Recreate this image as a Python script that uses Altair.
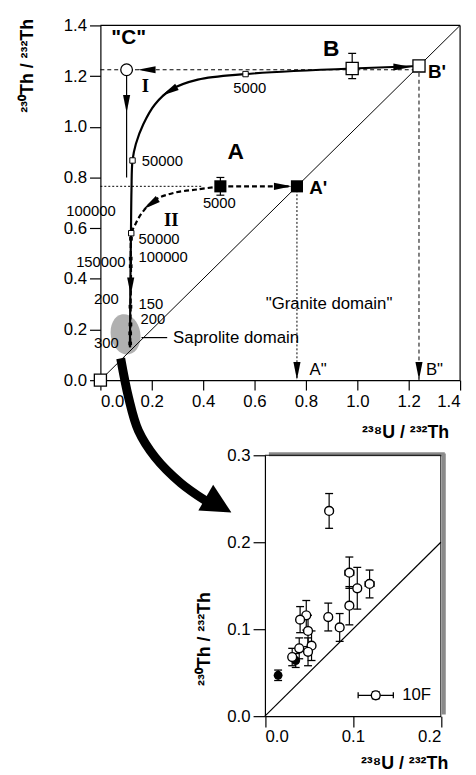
import altair as alt
import pandas as pd

FONT = "Liberation Sans"
SERIF = "Liberation Serif"

# ------------------------------------------------------------------ top panel data
top_ticks = [0.0, 0.2, 0.4, 0.6, 0.8, 1.0, 1.2, 1.4]

open_sq_x = [0.0, 0.98, 1.24]          # origin, B, B'
open_sq_y = [0.0, 1.23, 1.24]
fill_sq_x = [0.467, 0.765]             # A, A'
fill_sq_y = [0.765, 0.765]
c_x = [0.102]                          # "C"
c_y = [1.225]
err_x = [0.98, 0.467]                  # error bars on B and A
err_lo = [1.19, 0.73]
err_hi = [1.29, 0.80]
small_sq_x = [0.565, 0.125, 0.120]
small_sq_y = [1.208, 0.867, 0.580]
dot_x = [0.119, 0.118, 0.118, 0.117, 0.117, 0.116, 0.116]
dot_y = [0.558, 0.480, 0.450, 0.290, 0.220, 0.185, 0.145]

curve1_x = [0.98, 0.565, 0.379, 0.276, 0.212, 0.167, 0.138, 0.125, 0.121, 0.119, 0.117, 0.115]
curve1_y = [1.230, 1.208, 1.186, 1.147, 1.088, 1.010, 0.932, 0.867, 0.750, 0.580, 0.400, 0.130]
bb_x = [0.98, 1.24]
bb_y = [1.23, 1.24]
curve2_x = [0.467, 0.379, 0.289, 0.212, 0.161, 0.135, 0.122, 0.119, 0.116]
curve2_y = [0.765, 0.753, 0.740, 0.711, 0.659, 0.613, 0.581, 0.400, 0.130]
aa_x = [0.467, 0.765]
aa_y = [0.765, 0.765]
c_drop_x = [0.102, 0.102]
c_drop_y = [1.225, 0.80]
diag_x = [0.0, 1.4]
diag_y = [0.0, 1.4]
cb_x = [0.0, 1.24]
cb_y = [1.225, 1.225]
a_level_x = [0.0, 0.40]
a_level_y = [0.765, 0.765]
a_drop_x = [0.765, 0.765]
a_drop_y = [0.765, 0.0]
b_drop_x = [1.24, 1.24]
b_drop_y = [1.24, 0.0]
sap_x = [0.16, 0.26]
sap_y = [0.168, 0.168]
tail_x = [0.079, 0.110, 0.148, 0.213, 0.313, 0.41]
tail_y = [0.086, -0.070, -0.199, -0.304, -0.406, -0.476]
sap_zone_x = [0.098]
sap_zone_y = [0.181]

arrow_x = [0.102, 0.268, 0.195, 0.18, 1.175, 0.71, 0.765, 1.24, 0.118]
arrow_y = [1.09, 1.14, 0.695, 1.225, 1.236, 0.765, 0.037, 0.037, 0.37]
arrow_dir = [90, 150, 145, 180, 0, 0, 90, 90, 90]
big_arrow_x = [0.46]
big_arrow_y = [-0.493]
big_arrow_dir = [30]

age_r_t = ["100000", "150000", "200", "300"]
age_r_x = [0.06, 0.098, 0.071, 0.071]
age_r_y = [0.668, 0.466, 0.32, 0.145]
age_l_t = ["50000", "50000", "100000", "150", "200"]
age_l_x = [0.161, 0.148, 0.148, 0.148, 0.156]
age_l_y = [0.866, 0.558, 0.484, 0.30, 0.243]
age_c_t = ["5000", "5000"]
age_c_x = [0.581, 0.463]
age_c_y = [1.152, 0.698]
big_t = ["B", "A"]
big_x = [0.898, 0.527]
big_y = [1.308, 0.90]
c_lab_t = ['"C"']
c_lab_x = [0.11]
c_lab_y = [1.35]
prime_t = ["B'", "A'"]
prime_x = [1.275, 0.813]
prime_y = [1.217, 0.757]
dprime_t = ['A"', 'B"']
dprime_x = [0.814, 1.267]
dprime_y = [0.041, 0.041]
roman_t = ["I", "II"]
roman_x = [0.175, 0.276]
roman_y = [1.16, 0.632]
granite_t = ['"Granite domain"']
granite_x = [0.89]
granite_y = [0.30]
sap_t = ["Saprolite domain"]
sap_tx = [0.283]
sap_ty = [0.168]

# ------------------------------------------------------------------ inset data
inset_x_ticks = [0.0, 0.1, 0.2]
inset_y_ticks = [0.0, 0.1, 0.2, 0.3]
pts_x = [0.073, 0.096, 0.105, 0.119, 0.096, 0.085, 0.072, 0.047, 0.040, 0.049, 0.039, 0.053, 0.049, 0.031]
pts_y = [0.236, 0.165, 0.147, 0.152, 0.127, 0.102, 0.114, 0.116, 0.111, 0.098, 0.078, 0.081, 0.074, 0.068]
pts_ey = [0.020, 0.018, 0.024, 0.016, 0.022, 0.016, 0.016, 0.017, 0.015, 0.018, 0.012, 0.017, 0.016, 0.010]
pts_ex = [0.004, 0.005, 0.004, 0.005, 0.004, 0.004, 0.004, 0.003, 0.003, 0.003, 0.003, 0.003, 0.003, 0.003]
blk_x = [0.035, 0.015]
blk_y = [0.064, 0.047]
blk_ey = [0.008, 0.006]
leg_x = [0.126]
leg_y = [0.024]
leg_ex = [0.020]
leg_ey = [0.004]
leg_t = ["10F"]
leg_tx = [0.156]

# ------------------------------------------------------------------ helpers
def pts(xs, ys, **extra):
    d = {"x": xs, "y": ys, "i": list(range(len(xs)))}
    d.update(extra)
    return pd.DataFrame(d)

xs_top = alt.Scale(domain=[0, 1.4], nice=False, zero=False)
ys_top = alt.Scale(domain=[0, 1.4], nice=False, zero=False)
ax_top_x = alt.Axis(values=top_ticks, format=".1f", title="²³⁸U / ²³²Th",
                    titleAlign="right", titleX=352.5, titleY=58, titleBaseline="alphabetic",
                    labelPadding=4, tickSize=10)
ax_top_y = alt.Axis(values=top_ticks, format=".1f", title="²³⁰Th / ²³²Th",
                    titleAngle=270, titleAlign="right", titleX=-68.5, titleY=-7,
                    titleBaseline="alphabetic", labelPadding=3, tickSize=11)

def TX(f="x"):
    return alt.X(f + ":Q", scale=xs_top, axis=ax_top_x)

def TY(f="y"):
    return alt.Y(f + ":Q", scale=ys_top, axis=ax_top_y)

ARROW = "M-1,-0.4L1,0L-1,0.4Z"
BIG_ARROW = "M-1,-1L1,0L-1,1Z"
ELLIPSE = "M0,-1A0.73,1,0,1,1,0,1A0.73,1,0,1,1,0,-1Z"

def tline(xs, ys, width=1.0, dash=None, interp="linear"):
    kw = dict(color="black", strokeWidth=width, interpolate=interp)
    if dash:
        kw["strokeDash"] = dash
    return alt.Chart(pts(xs, ys)).mark_line(**kw).encode(x=TX(), y=TY(), order="i:Q")

def ttext(ts, xs, ys, size=15, align="center", weight="normal", font=FONT):
    return alt.Chart(pts(xs, ys, t=ts)).mark_text(
        font=font, fontSize=size, align=align, baseline="middle",
        fontWeight=weight, color="black").encode(x=TX(), y=TY(), text="t:N")

top_layers = [
    alt.Chart(pts(sap_zone_x, sap_zone_y)).mark_point(
        shape=ELLIPSE, filled=True, color="#b0b0b0", opacity=1, size=1681, angle=350
    ).encode(x=TX(), y=TY()),
    # frame
    tline([0.0, 1.4], [1.4, 1.4], 1.2),
    tline([1.4, 1.4], [0.0, 1.4], 1.2),
    tline(diag_x, diag_y, 1.0),
    tline(cb_x, cb_y, 1.0, [4, 3]),
    tline(a_level_x, a_level_y, 1.0, [2, 2]),
    tline(a_drop_x, a_drop_y, 1.0, [2, 2]),
    tline(b_drop_x, b_drop_y, 1.0, [4, 3]),
    tline(c_drop_x, c_drop_y, 1.2),
    tline(sap_x, sap_y, 1.2),
    tline(curve1_x, curve1_y, 2.2, None, "catmull-rom"),
    tline(bb_x, bb_y, 2.2),
    tline(curve2_x, curve2_y, 2.2, [5, 3], "catmull-rom"),
    tline(aa_x, aa_y, 2.2, [5, 3]),
    alt.Chart(pts(tail_x, tail_y)).mark_line(
        color="black", strokeWidth=9, interpolate="catmull-rom", strokeCap="butt"
    ).encode(x=TX(), y=TY(), order="i:Q"),
    alt.Chart(pts(big_arrow_x, big_arrow_y, a=big_arrow_dir)).mark_point(
        shape=BIG_ARROW, filled=True, color="black", opacity=1, size=900, strokeWidth=0
    ).encode(x=TX(), y=TY(), angle=alt.Angle("a:Q", scale=None)),
    alt.Chart(pts(arrow_x, arrow_y, a=arrow_dir)).mark_point(
        shape=ARROW, filled=True, color="black", opacity=1, size=324, strokeWidth=0
    ).encode(x=TX(), y=TY(), angle=alt.Angle("a:Q", scale=None)),
    # error bars
    alt.Chart(pd.DataFrame({"x": err_x, "lo": err_lo, "hi": err_hi})).mark_rule(
        color="black", strokeWidth=1.2).encode(x=TX(), y=TY("lo"), y2="hi:Q"),
    alt.Chart(pd.DataFrame({"x": err_x, "y": err_lo})).mark_tick(
        orient="horizontal", size=8, thickness=1.2, color="black", opacity=1).encode(x=TX(), y=TY()),
    alt.Chart(pd.DataFrame({"x": err_x, "y": err_hi})).mark_tick(
        orient="horizontal", size=8, thickness=1.2, color="black", opacity=1).encode(x=TX(), y=TY()),
    # markers
    alt.Chart(pts(dot_x, dot_y)).mark_square(size=14, color="black", opacity=1).encode(x=TX(), y=TY()),
    alt.Chart(pts(small_sq_x, small_sq_y)).mark_square(
        size=30, fill="white", stroke="black", strokeWidth=1, opacity=1).encode(x=TX(), y=TY()),
    alt.Chart(pts(open_sq_x, open_sq_y)).mark_square(
        size=150, fill="white", stroke="black", strokeWidth=1.3, opacity=1).encode(x=TX(), y=TY()),
    alt.Chart(pts(fill_sq_x, fill_sq_y)).mark_square(
        size=150, color="black", opacity=1).encode(x=TX(), y=TY()),
    alt.Chart(pts(c_x, c_y)).mark_circle(
        size=140, fill="white", stroke="black", strokeWidth=1.3, opacity=1).encode(x=TX(), y=TY()),
    # labels
    ttext(age_r_t, age_r_x, age_r_y, 15, "right"),
    ttext(age_l_t, age_l_x, age_l_y, 15, "left"),
    ttext(age_c_t, age_c_x, age_c_y, 15, "center"),
    ttext(big_t, big_x, big_y, 23, "center", "bold"),
    ttext(c_lab_t, c_lab_x, c_lab_y, 21, "center", "bold"),
    ttext(prime_t, prime_x, prime_y, 19, "left", "bold"),
    ttext(dprime_t, dprime_x, dprime_y, 17, "left"),
    ttext(roman_t, roman_x, roman_y, 19, "center", "bold", SERIF),
    ttext(granite_t, granite_x, granite_y, 17, "center"),
    ttext(sap_t, sap_tx, sap_ty, 17, "left"),
]
top = alt.layer(*top_layers).properties(width=364, height=359)

# ------------------------------------------------------------------ inset
xs_in = alt.Scale(domain=[0, 0.2], nice=False, zero=False, range=[166.5, 344.5])
ys_in = alt.Scale(domain=[0, 0.3], nice=False, zero=False)
ax_in_x = alt.Axis(values=inset_x_ticks, format=".1f", title="²³⁸U / ²³²Th",
                   titleAlign="right", titleX=351.5, titleY=53, titleBaseline="alphabetic",
                   labelPadding=2, tickSize=11)
ax_in_y = alt.Axis(values=inset_y_ticks, format=".1f", title="²³⁰Th / ²³²Th",
                   titleAngle=270, titleAlign="left", titleX=-56, titleY=233,
                   titleBaseline="alphabetic", labelPadding=3, tickSize=12, offset=-166.5)

def IX(f="x"):
    return alt.X(f + ":Q", scale=xs_in, axis=ax_in_x)

def IY(f="y"):
    return alt.Y(f + ":Q", scale=ys_in, axis=ax_in_y)

def bars(xs, ys, exs, eys):
    d = pd.DataFrame({"x": xs, "y": ys, "ex": exs, "ey": eys})
    d["ylo"] = d["y"] - d["ey"]
    d["yhi"] = d["y"] + d["ey"]
    d["xlo"] = d["x"] - d["ex"]
    d["xhi"] = d["x"] + d["ex"]
    base = alt.Chart(d)
    return [
        base.mark_rule(color="black", strokeWidth=1.2).encode(x=IX(), y=IY("ylo"), y2="yhi:Q"),
        base.mark_tick(orient="horizontal", size=8, thickness=1.3, color="black", opacity=1).encode(x=IX(), y=IY("ylo")),
        base.mark_tick(orient="horizontal", size=8, thickness=1.3, color="black", opacity=1).encode(x=IX(), y=IY("yhi")),
        base.mark_rule(color="black", strokeWidth=1.2).encode(x=IX("xlo"), x2="xhi:Q", y=IY()),
        base.mark_tick(orient="vertical", size=6, thickness=1.3, color="black", opacity=1).encode(x=IX("xlo"), y=IY()),
        base.mark_tick(orient="vertical", size=6, thickness=1.3, color="black", opacity=1).encode(x=IX("xhi"), y=IY()),
    ]

inset_layers = [
    # shadow of the frame
    alt.Chart(pd.DataFrame({"x": [0.0045], "x2": [0.2045], "y": [0.3]})).mark_rule(
        color="#8a8a8a", strokeWidth=4, yOffset=-1).encode(x=IX(), x2="x2:Q", y=IY()),
    alt.Chart(pd.DataFrame({"x": [0.2], "y": [0.002], "y2": [0.302]})).mark_rule(
        color="#8a8a8a", strokeWidth=4, xOffset=3).encode(x=IX(), y=IY(), y2="y2:Q"),
    alt.Chart(pd.DataFrame({"x": [0.0], "x2": [0.2], "y": [0.3]})).mark_rule(
        color="black", strokeWidth=1).encode(x=IX(), x2="x2:Q", y=IY()),
    alt.Chart(pd.DataFrame({"x": [0.2], "y": [0.0], "y2": [0.3]})).mark_rule(
        color="black", strokeWidth=1).encode(x=IX(), y=IY(), y2="y2:Q"),
    alt.Chart(pts([0.0, 0.2], [0.0, 0.2])).mark_line(color="black", strokeWidth=1.2).encode(
        x=IX(), y=IY(), order="i:Q"),
]
inset_layers += bars(blk_x, blk_y, [0.0, 0.0], blk_ey)
inset_layers.append(
    alt.Chart(pts(blk_x, blk_y)).mark_circle(size=80, color="black", opacity=1).encode(x=IX(), y=IY()))
inset_layers += bars(pts_x, pts_y, pts_ex, pts_ey)
inset_layers += bars(leg_x, leg_y, leg_ex, leg_ey)
inset_layers.append(
    alt.Chart(pts(pts_x + leg_x, pts_y + leg_y)).mark_circle(
        size=80, fill="white", stroke="black", strokeWidth=1.4, opacity=1).encode(x=IX(), y=IY()))
inset_layers.append(
    alt.Chart(pts(leg_tx, leg_y, t=leg_t)).mark_text(
        font=FONT, fontSize=17, align="left", baseline="middle", color="black"
    ).encode(x=IX(), y=IY(), text="t:N"))

inset = alt.layer(*inset_layers).properties(width=344.5, height=264)

chart = alt.vconcat(top, inset, spacing=76, bounds="flush").properties(
    padding={"left": 10.5, "top": 4, "right": 5, "bottom": 5},
    background="white",
).configure_view(stroke=None).configure_axis(
    labelFont=FONT, labelFontSize=17, labelColor="black",
    titleFont=FONT, titleFontSize=18, titleFontWeight="bold", titleColor="black",
    domainColor="black", tickColor="black", domainWidth=1.2, tickWidth=1.2, grid=False,
)

chart.save("out.html", embed_options={"renderer": "svg", "actions": False})
